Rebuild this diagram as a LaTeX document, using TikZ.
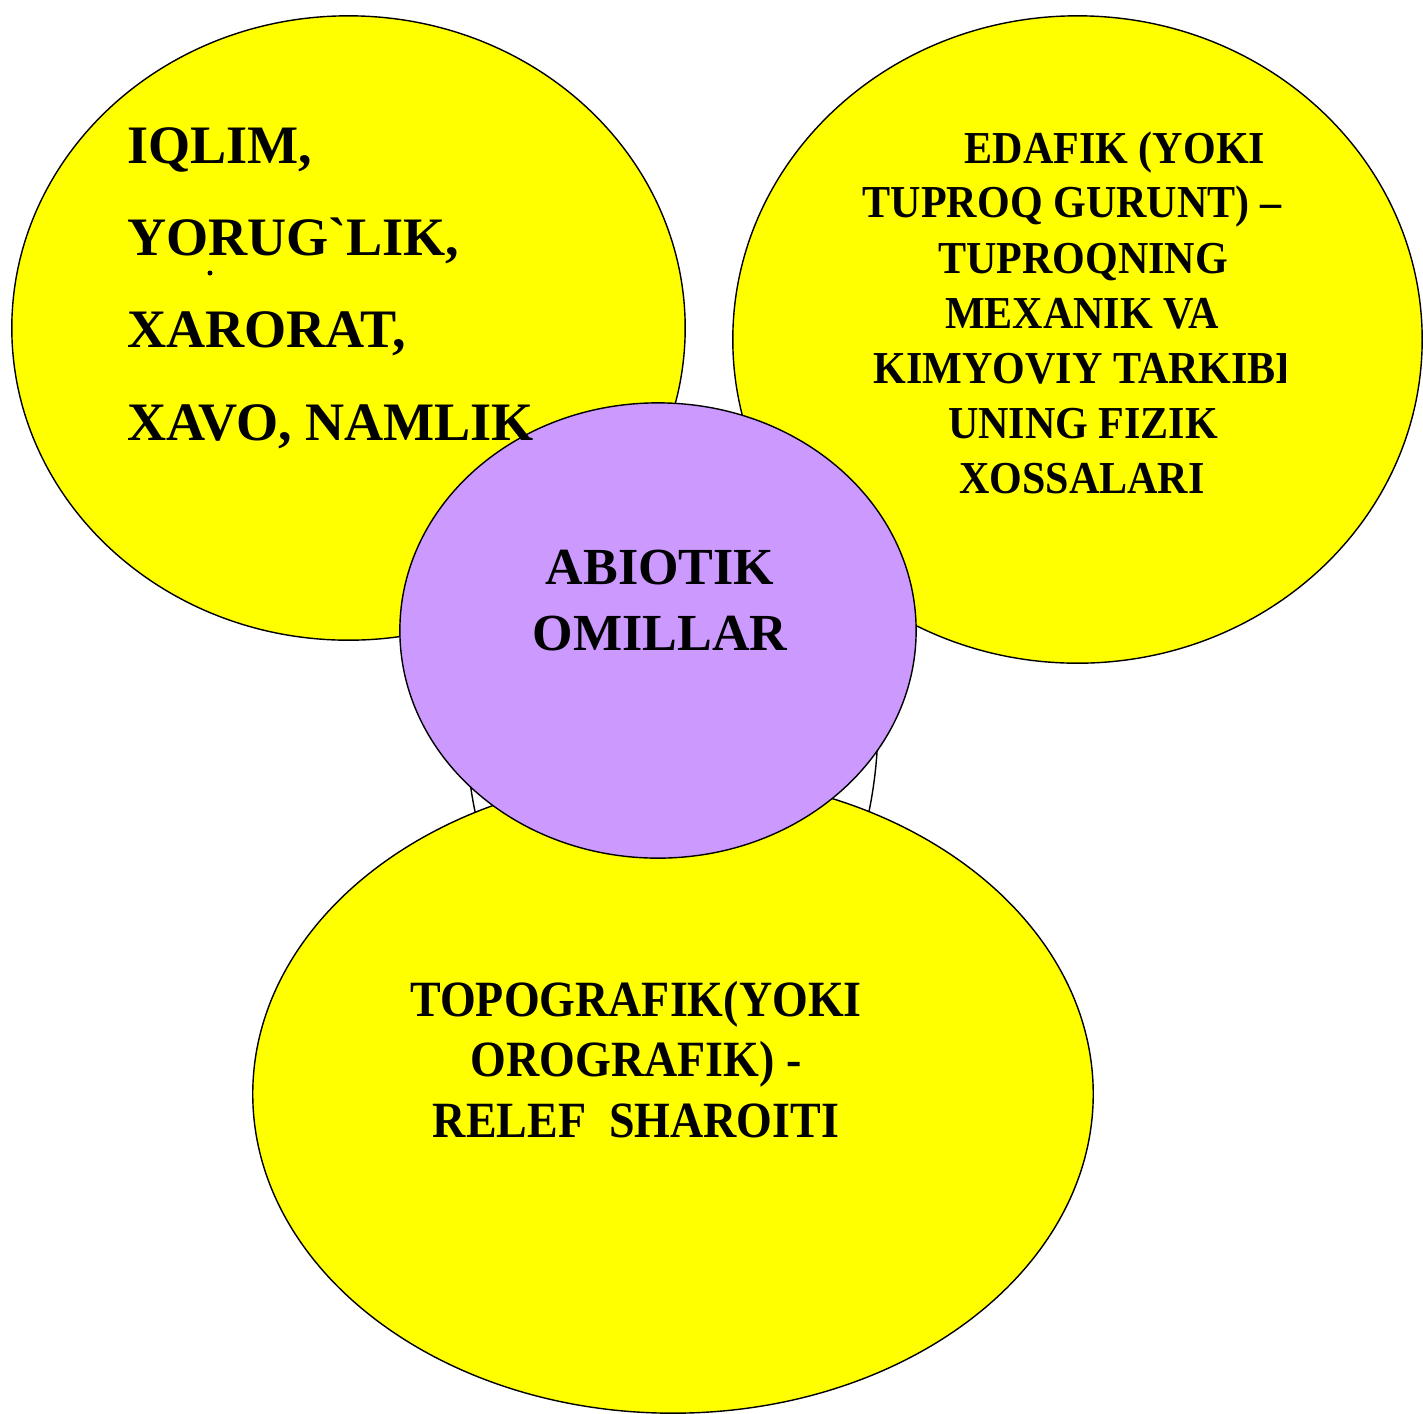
\documentclass[tikz,border=0pt]{standalone}
\usepackage{fontspec}
\setmainfont{Liberation Serif}
\newfontfamily\narrowserif{Liberation Serif}[FakeStretch=0.92]
\newfontfamily\narrowerserif{Liberation Serif}[FakeStretch=0.905]
\usetikzlibrary{shapes.geometric}
\definecolor{omilyellow}{HTML}{FFFF00}
\definecolor{omilpurple}{HTML}{CC99FF}

\begin{document}
\begin{tikzpicture}[x=0.01cm, y=-0.01cm,
	oval/.style={ellipse, draw=black, line width=0.4pt, inner sep=0pt, outer sep=0pt},
	omiltext/.style={inner sep=0pt, outer sep=0pt}]
	\useasboundingbox (0,0) rectangle (1423,1414);
	% white oval hidden behind the centre
	\node[oval, fill=white, minimum width=4.12cm, minimum height=6.2cm] (back) at (672,720) {};
	\node[oval, fill=omilyellow, minimum width=6.73cm, minimum height=6.24cm] (iqlim) at (348.5,328) {};
	\node[oval, fill=omilyellow, minimum width=6.89cm, minimum height=6.47cm] (edafik) at (1077.5,339.5) {};
	\node[oval, fill=omilyellow, minimum width=8.40cm, minimum height=6.38cm] (relef) at (673,1094) {};
	\node[oval, fill=omilpurple, minimum width=5.16cm, minimum height=4.55cm] (abiotik) at (658,630.5) {};
	% texts (base = last line)
	\node[omiltext, anchor=base west, align=left, font=\bfseries\fontsize{15.4}{26.2}\selectfont] (iqlimtext) at (127,440)
		{IQLIM,\\YORUG\textasciigrave LIK,\\XARORAT,\\XAVO, NAMLIK};
	\fill (210,273) circle (2.5);
	\begin{scope}
		\clip (0,0) rectangle (1285,1414);
		\foreach \txt/\cx/\by [count=\i] in {{EDAFIK (YOKI}/1115/163, {TUPROQ GURUNT) \textendash}/1072/217,
				{TUPROQNING}/1083/273, {MEXANIK VA}/1082/328, {KIMYOVIY TARKIBI}/1083/383,
				{UNING FIZIK}/1083/438, {XOSSALARI}/1082/493}
			\node[omiltext, anchor=base, font=\narrowserif\bfseries\fontsize{13}{15.6}\selectfont] (edafik\i) at (\cx,\by) {\txt};
	\end{scope}
	\node[omiltext, anchor=base, align=center, font=\narrowerserif\bfseries\fontsize{14.45}{17.1}\selectfont] (releftext) at (636,1137)
		{TOPOGRAFIK(YOKI\\OROGRAFIK) -\\RELEF~~SHAROITI};
	\node[omiltext, anchor=base, align=center, font=\bfseries\fontsize{14.8}{18.5}\selectfont] (abiotiktext) at (660,650)
		{ABIOTIK\\OMILLAR};
\end{tikzpicture}
\end{document}
